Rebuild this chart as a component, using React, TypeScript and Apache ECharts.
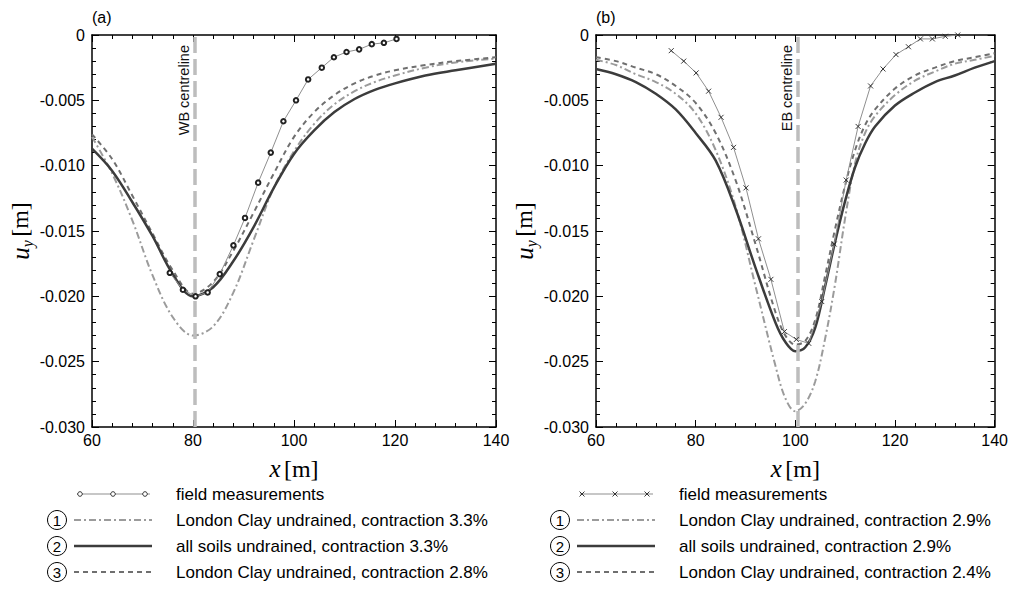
import React, { useEffect, useRef } from "react";
import * as echarts from "echarts";

// ---------- data ----------
// panel (a)
const aFieldX = [75.4, 78, 80.5, 82.9, 85.3, 88, 90.3, 92.9, 95.4, 97.9, 100.4, 102.8, 105.5, 107.9, 110.4, 112.9, 115.4, 117.8, 120.3];
const aFieldY = [-0.0182, -0.0195, -0.02, -0.0197, -0.0183, -0.0161, -0.014, -0.0113, -0.009, -0.0066, -0.005, -0.0034, -0.0025, -0.0017, -0.0013, -0.0011, -0.0007, -0.0006, -0.0003];

const aCurveX = [60, 64, 68, 72, 76, 80, 84, 88, 92, 96, 100, 104, 108, 112, 116, 120, 126, 132, 140];
const aDashDotY = [-0.0078, -0.0106, -0.0142, -0.0184, -0.0216, -0.023, -0.0223, -0.0197, -0.0157, -0.0117, -0.0089, -0.0068, -0.0053, -0.0043, -0.0036, -0.0031, -0.0025, -0.0021, -0.0018];
const aSolidY = [-0.0087, -0.0104, -0.0128, -0.0154, -0.0183, -0.02, -0.0193, -0.0173, -0.0147, -0.0117, -0.0091, -0.0073, -0.0059, -0.0049, -0.0042, -0.0037, -0.0031, -0.0027, -0.0022];
const aDashedY = [-0.0076, -0.0095, -0.0123, -0.0152, -0.018, -0.0198, -0.0189, -0.0165, -0.0136, -0.0106, -0.0078, -0.0059, -0.0046, -0.0037, -0.0031, -0.0027, -0.0023, -0.002, -0.0017];

const aCentre = 80.3;

// panel (b)
const bFieldX = [75.1, 77.6, 80.1, 82.6, 85.1, 87.6, 90.1, 92.6, 95.1, 97.8, 100.2, 102.7, 105.3, 107.8, 110.2, 112.6, 115.1, 117.6, 120.2, 122.7, 125.1, 127.5, 130.1, 132.6];
const bFieldY = [-0.0012, -0.002, -0.0029, -0.0043, -0.0063, -0.0086, -0.0117, -0.0156, -0.0187, -0.0227, -0.0233, -0.0236, -0.0204, -0.016, -0.0111, -0.007, -0.0039, -0.0026, -0.0015, -0.0009, -0.0003, -0.0003, -0.0001, 0];

const bCurveX = [60, 64, 68, 72, 76, 80, 84, 88, 92, 96, 98, 100, 102, 104, 106, 108, 110, 112, 114, 116, 120, 124, 128, 132, 136, 140];
const bDashDotY = [-0.0019, -0.0023, -0.003, -0.0036, -0.0045, -0.006, -0.0088, -0.0131, -0.0192, -0.0253, -0.0278, -0.0288, -0.0282, -0.0265, -0.0232, -0.019, -0.014, -0.0098, -0.0075, -0.0062, -0.0046, -0.0035, -0.0028, -0.0022, -0.0019, -0.0016];
const bSolidY = [-0.0026, -0.003, -0.0036, -0.0045, -0.0057, -0.0075, -0.0096, -0.0133, -0.0178, -0.022, -0.0235, -0.0242, -0.0239, -0.0224, -0.0192, -0.0158, -0.0127, -0.0101, -0.0083, -0.007, -0.0054, -0.0044, -0.0036, -0.0031, -0.0025, -0.002];
const bDashedY = [-0.0017, -0.002, -0.0025, -0.003, -0.0039, -0.0052, -0.0075, -0.0111, -0.016, -0.0212, -0.023, -0.0237, -0.0234, -0.0218, -0.0184, -0.0148, -0.0115, -0.0088, -0.0069, -0.0057, -0.0041, -0.0031, -0.0025, -0.002, -0.0017, -0.0014];

const bCentre = 100.5;

const aLegend = ["field measurements", "London Clay undrained, contraction 3.3%", "all soils undrained, contraction 3.3%", "London Clay undrained, contraction 2.8%"];
const bLegend = ["field measurements", "London Clay undrained, contraction 2.9%", "all soils undrained, contraction 2.9%", "London Clay undrained, contraction 2.4%"];

// ---------- styles ----------
const SANS = "Liberation Sans, Arial, Helvetica, sans-serif";
const SERIF = "Liberation Serif, Times New Roman, serif";
const C_SOLID = "#3c3c3c";
const C_DASHDOT = "#9b9b9b";
const C_DASHED = "#6f6f6f";
const C_FIELD = "#8f8f8f";
const C_CENTRE = "#bdbdbd";
const DASHDOT = [7, 3, 2, 3];
const DASHED = [5, 4];

const zip = (xs: number[], ys: number[]) => xs.map((x, i) => [x, ys[i]]);

function xAxes(grid: number) {
  const base = {
    gridIndex: grid,
    type: "value",
    min: 60,
    max: 140,
    interval: 20,
    axisLine: { show: true, onZero: false, lineStyle: { color: "#000", width: 1.5 } },
    axisTick: { show: true, inside: true, length: 7, lineStyle: { color: "#000", width: 1 } },
    minorTick: { show: true, splitNumber: 5, length: 4, lineStyle: { color: "#000", width: 1 } },
    splitLine: { show: false },
    minorSplitLine: { show: false },
  };
  return [
    {
      ...base,
      position: "bottom",
      axisLabel: { show: true, color: "#000", fontSize: 16, fontFamily: SANS, margin: 5 },
      name: "{i|x} {r|[m]}",
      nameLocation: "middle",
      nameGap: 29,
      nameTextStyle: {
        rich: {
          i: { fontFamily: SERIF, fontStyle: "italic", fontSize: 25, color: "#000" },
          r: { fontFamily: SERIF, fontSize: 24, color: "#000" },
        },
      },
    },
    { ...base, position: "top", axisLabel: { show: false } },
  ];
}

function yAxes(grid: number) {
  const base = {
    gridIndex: grid,
    type: "value",
    min: -0.03,
    max: 0,
    interval: 0.005,
    axisLine: { show: true, onZero: false, lineStyle: { color: "#000", width: 1.5 } },
    axisTick: { show: true, inside: true, length: 7, lineStyle: { color: "#000", width: 1 } },
    minorTick: { show: true, splitNumber: 5, length: 4, lineStyle: { color: "#000", width: 1 } },
    splitLine: { show: false },
    minorSplitLine: { show: false },
  };
  return [
    {
      ...base,
      position: "left",
      axisLabel: {
        show: true,
        color: "#000",
        fontSize: 16,
        fontFamily: SANS,
        margin: 7,
        formatter: (v: number) => (Math.abs(v) < 1e-9 ? "0" : v.toFixed(3)),
      },
      name: "{u|u}{s|y} {m|[m]}",
      nameLocation: "middle",
      nameRotate: 90,
      nameGap: 57,
      nameTextStyle: {
        rich: {
          u: { fontFamily: SERIF, fontStyle: "italic", fontSize: 25, color: "#000", lineHeight: 30 },
          s: { fontFamily: SERIF, fontStyle: "italic", fontSize: 16, color: "#000", lineHeight: 16, verticalAlign: "bottom" },
          m: { fontFamily: SERIF, fontSize: 24, color: "#000", lineHeight: 30 },
        },
      },
    },
    { ...base, position: "right", axisLabel: { show: false } },
  ];
}

function panelSeries(axis: number, field: number[][], dashdot: number[][], solid: number[][], dashed: number[][], centre: number, centreLabel: string, crossMarker: boolean) {
  return [
    {
      type: "line",
      xAxisIndex: axis,
      yAxisIndex: axis,
      data: [],
      silent: true,
      z: 1,
      markLine: {
        silent: true,
        symbol: "none",
        lineStyle: { color: C_CENTRE, width: 3.5, type: [16, 6] },
        label: {
          show: true,
          position: "insideEndTop",
          formatter: centreLabel,
          color: "#111",
          fontSize: 14.5,
          fontFamily: SANS,
          distance: [10, 3],
        },
        data: [{ xAxis: centre }],
      },
    },
    {
      type: "line",
      xAxisIndex: axis,
      yAxisIndex: axis,
      data: dashdot,
      smooth: 0.35,
      showSymbol: false,
      z: 2,
      lineStyle: { color: C_DASHDOT, width: 2, type: DASHDOT },
    },
    {
      type: "line",
      xAxisIndex: axis,
      yAxisIndex: axis,
      data: dashed,
      smooth: 0.35,
      showSymbol: false,
      z: 3,
      lineStyle: { color: C_DASHED, width: 2, type: DASHED },
    },
    {
      type: "line",
      xAxisIndex: axis,
      yAxisIndex: axis,
      data: solid,
      smooth: 0.35,
      showSymbol: false,
      z: 4,
      lineStyle: { color: C_SOLID, width: 2.5 },
    },
    {
      type: "line",
      xAxisIndex: axis,
      yAxisIndex: axis,
      data: field,
      z: 5,
      showSymbol: true,
      showAllSymbol: true,
      symbol: crossMarker ? "path://M0,0L10,10M10,0L0,10" : "emptyCircle",
      symbolSize: crossMarker ? 5 : 4.5,
      lineStyle: { color: C_FIELD, width: 1 },
      itemStyle: { color: "#222", borderColor: "#222", borderWidth: 0.9 },
    },
  ];
}

function legendGraphics(circleX: number, lineX0: number, lineX1: number, textX: number, rows: number[], labels: string[], cross: boolean, markerXs: number[]) {
  const els: any[] = [];
  els.push({ type: "line", shape: { x1: lineX0, y1: rows[0], x2: lineX1, y2: rows[0] }, style: { stroke: C_FIELD, lineWidth: 1 } });
  markerXs.forEach((mx) => {
    if (cross) {
      els.push({ type: "line", shape: { x1: mx - 2.5, y1: rows[0] - 2.5, x2: mx + 2.5, y2: rows[0] + 2.5 }, style: { stroke: "#222", lineWidth: 0.9 } });
      els.push({ type: "line", shape: { x1: mx - 2.5, y1: rows[0] + 2.5, x2: mx + 2.5, y2: rows[0] - 2.5 }, style: { stroke: "#222", lineWidth: 0.9 } });
    } else {
      els.push({ type: "circle", shape: { cx: mx, cy: rows[0], r: 2.3 }, style: { fill: "#fff", stroke: "#222", lineWidth: 0.9 } });
    }
  });
  const styles = [
    { stroke: C_DASHDOT, lineWidth: 2, lineDash: DASHDOT },
    { stroke: C_SOLID, lineWidth: 2.5 },
    { stroke: C_DASHED, lineWidth: 2, lineDash: DASHED },
  ];
  for (let k = 1; k <= 3; k++) {
    const y = rows[k];
    els.push({ type: "circle", shape: { cx: circleX, cy: y, r: 9.5 }, style: { fill: "#fff", stroke: "#000", lineWidth: 1 } });
    els.push({ type: "text", x: circleX, y: y + 0.5, style: { text: String(k), fill: "#000", fontSize: 15, fontFamily: SANS, align: "center", verticalAlign: "middle" } });
    els.push({ type: "line", shape: { x1: lineX0 - 3, y1: y, x2: lineX1 + 2, y2: y }, style: { fill: null, ...styles[k - 1] } });
  }
  labels.forEach((t, k) => {
    els.push({ type: "text", x: textX, y: rows[k], style: { text: t, fill: "#000", fontSize: 17, fontFamily: SANS, align: "left", verticalAlign: "middle" } });
  });
  return els;
}

export default function App() {
  const ref = useRef<HTMLDivElement>(null);
  useEffect(() => {
    if (!ref.current) return;
    const chart = echarts.init(ref.current, null, { renderer: "svg" });
    const [xa0, xa1] = xAxes(0);
    const [xb0, xb1] = xAxes(1);
    const [ya0, ya1] = yAxes(0);
    const [yb0, yb1] = yAxes(1);
    const rows = [494, 520, 546, 572];
    const option: any = {
      animation: false,
      backgroundColor: "#fff",
      grid: [
        { left: 92, top: 35, width: 404, height: 392 },
        { left: 596, top: 35, width: 403, height: 392 },
      ],
      xAxis: [xa0, xa1, xb0, xb1].map((a, i) => ({ ...a, gridIndex: i < 2 ? 0 : 1 })),
      yAxis: [ya0, ya1, yb0, yb1].map((a, i) => ({ ...a, gridIndex: i < 2 ? 0 : 1 })),
      series: [
        ...panelSeries(0, zip(aFieldX, aFieldY), zip(aCurveX, aDashDotY), zip(aCurveX, aSolidY), zip(aCurveX, aDashedY), aCentre, "WB centreline", false),
        ...panelSeries(2, zip(bFieldX, bFieldY), zip(bCurveX, bDashDotY), zip(bCurveX, bSolidY), zip(bCurveX, bDashedY), bCentre, "EB centreline", true),
      ],
      graphic: [
        { type: "text", left: 92, top: 9, style: { text: "(a)", fill: "#000", fontSize: 16, fontFamily: SANS } },
        { type: "text", left: 596, top: 9, style: { text: "(b)", fill: "#000", fontSize: 16, fontFamily: SANS } },
        ...legendGraphics(57, 77, 150, 176, rows, aLegend, false, [80, 113, 145]),
        ...legendGraphics(560, 580, 653, 679, rows, bLegend, true, [582, 615, 647]),
      ],
    };
    chart.setOption(option);
    return () => chart.dispose();
  }, []);
  return (
    <div
      ref={ref}
      style={{ position: "absolute", left: 0, top: 0, width: 1011, height: 597, background: "#fff" }}
    />
  );
}
